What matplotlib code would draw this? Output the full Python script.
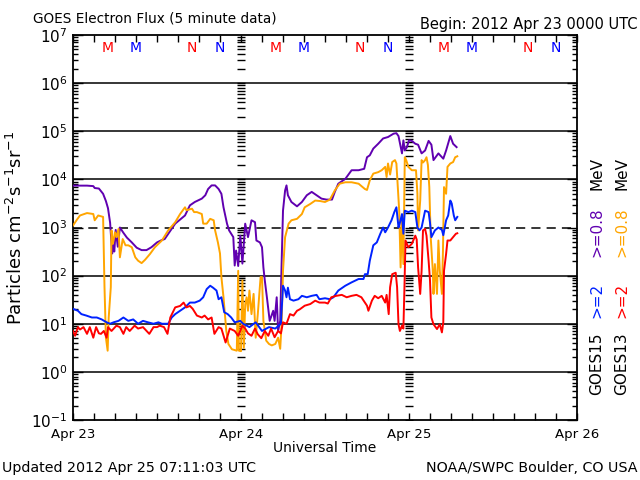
import matplotlib
matplotlib.use('Agg')
import matplotlib.pyplot as plt
import numpy as np
from matplotlib.ticker import FixedLocator, MultipleLocator, NullFormatter

# hours since 2012 Apr 23 00:00 UT, values are log10 of flux
g15_08_hours = [0, 1, 2, 2.9, 3.1, 3.7, 4.3, 4.7, 5.0, 5.3,
                5.6, 5.7, 5.9, 6.1, 6.4, 6.7, 7.2, 7.7, 8.4, 9.1,
                9.8, 10.5, 11.2, 12.0, 12.7, 13.1, 14.6, 16.0, 16.7, 17.4,
                18.4, 18.9, 19.3, 19.8, 20.3, 20.8, 21.2, 21.5, 22.0, 22.3,
                22.9, 23.1, 23.3, 23.6, 23.9, 24.2, 24.5, 24.6, 25.0, 25.5,
                26.0, 26.2, 26.7, 27.0, 27.2, 27.4, 27.7, 28.1, 28.6, 28.8,
                29.1, 29.3, 29.6, 29.8, 30.0, 30.3, 30.5, 30.7, 31.2, 32.0,
                32.7, 33.4, 34.1, 34.8, 35.5, 36.2, 37.0, 37.4, 37.9, 38.9,
                39.8, 40.8, 41.6, 42.0, 42.4, 42.9, 43.6, 44.3, 45.0, 45.8,
                46.2, 46.5, 47.0, 47.2, 47.4, 47.7, 48.0, 48.4, 48.9, 49.3,
                49.8, 50.3, 50.8, 51.2, 51.5, 52.2, 52.9, 53.3, 53.9, 54.3,
                54.8]
g15_08_log = [3.87, 3.87, 3.87, 3.86, 3.82, 3.81, 3.70, 3.55, 3.40, 3.10,
              2.46, 2.65, 2.50, 2.95, 2.60, 3.00, 2.89, 2.79, 2.69, 2.58,
              2.53, 2.53, 2.59, 2.69, 2.74, 2.76, 3.08, 3.25, 3.46, 3.53,
              3.60, 3.67, 3.80, 3.875, 3.875, 3.80, 3.70, 3.42, 3.08, 2.94,
              2.80, 2.21, 2.52, 2.20, 2.83, 2.25, 2.87, 3.08, 2.80, 3.15,
              3.11, 2.73, 2.69, 2.59, 2.17, 1.90, 1.55, 1.06, 1.27, 1.06,
              1.55, 0.85, 1.06, 2.24, 3.35, 3.77, 3.875, 3.67, 3.53, 3.44,
              3.53, 3.67, 3.74, 3.67, 3.60, 3.58, 3.58, 3.74, 3.91, 4.01,
              4.19, 4.19, 4.22, 4.46, 4.50, 4.64, 4.74, 4.85, 4.88, 4.95,
              4.96, 4.90, 4.54, 4.81, 4.60, 4.67, 4.81, 4.80, 4.74, 4.72,
              4.54, 4.60, 4.80, 4.72, 4.40, 4.54, 4.43, 4.60, 4.90, 4.74,
              4.67]

g13_08_hours = [0, 0.5, 1.0, 2.0, 2.9, 3.1, 3.6, 4.3, 4.5, 4.7,
                4.95, 5.1, 5.4, 5.5, 5.7, 6.0, 6.2, 6.5, 6.7, 7.1,
                7.5, 7.9, 8.4, 8.9, 9.3, 9.8, 10.3, 11.0, 11.7, 12.7,
                13.6, 14.6, 15.3, 16.0, 16.2, 17.0, 17.3, 17.7, 18.4, 18.6,
                19.1, 19.6, 20.1, 20.3, 20.7, 21.0, 21.2, 21.5, 21.7, 21.9,
                22.2, 22.7, 23.4, 23.6, 23.7, 24.0, 24.2, 24.4, 24.6, 24.8,
                25.0, 25.2, 25.5, 25.8, 26.1, 26.4, 26.8, 27.0, 27.2, 27.6,
                28.0, 28.4, 28.9, 29.3, 29.6, 29.8, 30.0, 30.3, 30.8, 31.2,
                32.0, 32.7, 33.1, 33.9, 34.6, 35.3, 36.0, 36.7, 37.4, 38.1,
                38.9, 39.8, 40.8, 41.7, 42.0, 42.4, 42.9, 43.6, 44.1, 44.6,
                44.8, 45.0, 45.3, 45.6, 46.0, 46.2, 46.4, 46.6, 46.8, 47.0,
                47.2, 47.4, 47.6, 47.9, 48.4, 49.0, 49.2, 49.3, 49.6, 49.8,
                50.0, 50.3, 50.5, 50.7, 50.9, 51.1, 51.4, 51.5, 51.7, 52.0,
                52.2, 52.4, 52.7, 52.85, 53.0, 53.3, 53.5, 53.9, 54.3, 54.6,
                54.9]
g13_08_log = [3.04, 3.15, 3.25, 3.30, 3.28, 3.15, 3.25, 3.22, 1.76, 0.71,
              0.44, 1.13, 1.76, 2.94, 2.66, 2.90, 2.80, 2.97, 2.38, 2.76,
              2.63, 2.63, 2.59, 2.38, 2.31, 2.26, 2.33, 2.45, 2.59, 2.73,
              2.94, 3.11, 3.28, 3.42, 3.36, 3.39, 3.32, 3.32, 3.28, 3.08,
              3.08, 3.18, 3.15, 2.94, 2.69, 2.46, 1.97, 1.55, 1.20, 0.85,
              0.58, 0.47, 0.44, 2.10, 0.44, 0.43, 1.90, 0.50, 1.40, 1.55,
              1.27, 1.69, 1.20, 1.62, 0.71, 1.20, 1.97, 1.97, 1.06, 0.65,
              0.58, 0.55, 0.58, 0.71, 0.48, 0.99, 2.10, 2.80, 3.08, 3.15,
              3.18, 3.28, 3.42, 3.49, 3.56, 3.55, 3.53, 3.58, 3.77, 3.91,
              3.94, 3.94, 3.91, 3.80, 3.78, 3.98, 4.12, 4.15, 4.19, 4.26,
              4.05, 4.33, 4.10, 4.36, 4.40, 4.33, 3.84, 3.35, 2.17, 3.15,
              2.24, 4.46, 4.40, 4.26, 4.19, 4.19, 3.70, 2.94, 3.56, 4.40,
              4.35, 4.40, 4.46, 4.30, 3.84, 2.80, 2.10, 1.62, 2.24, 1.62,
              2.73, 2.10, 1.62, 2.50, 3.84, 3.70, 4.26, 4.33, 4.36, 4.46,
              4.48]

g15_2_hours = [0, 0.7, 1.2, 1.9, 2.7, 3.4, 4.1, 4.8, 5.3, 5.8,
               6.5, 7.2, 7.9, 8.6, 9.3, 10.0, 10.7, 11.5, 12.2, 12.7,
               13.6, 14.1, 14.6, 15.3, 16.0, 16.7, 17.4, 18.1, 18.6, 19.1,
               19.6, 20.0, 20.5, 20.8, 21.2, 21.6, 22.1, 22.6, 23.1, 23.9,
               24.3, 25.2, 26.1, 27.0, 28.0, 28.9, 29.7, 30.0, 30.3, 30.5,
               30.7, 31.0, 31.5, 32.2, 32.7, 33.4, 34.1, 34.8, 35.2, 36.0,
               36.7, 37.2, 37.9, 38.9, 39.8, 40.8, 41.5, 41.7, 42.1, 42.4,
               42.9, 43.4, 43.9, 44.3, 44.6, 45.0, 45.5, 45.9, 46.2, 46.5,
               46.7, 47.0, 47.2, 47.4, 47.9, 48.4, 48.9, 49.2, 49.5, 49.8,
               50.3, 50.8, 51.0, 51.2, 51.7, 52.2, 52.7, 52.9, 53.3, 53.6,
               53.9, 54.1, 54.4, 54.6, 54.9]
g15_2_log = [1.31, 1.27, 1.20, 1.17, 1.13, 1.13, 1.09, 1.03, 1.00, 1.03,
             1.06, 1.13, 1.06, 1.09, 1.00, 1.06, 1.03, 1.00, 1.03, 1.00,
             1.00, 1.13, 1.20, 1.27, 1.34, 1.44, 1.44, 1.48, 1.55, 1.72,
             1.79, 1.75, 1.69, 1.51, 1.55, 1.24, 1.20, 1.13, 1.03, 1.06,
             1.00, 0.93, 1.03, 0.85, 0.93, 0.90, 1.00, 1.79, 1.69, 1.55,
             1.75, 1.51, 1.48, 1.51, 1.58, 1.55, 1.58, 1.60, 1.51, 1.53,
             1.51, 1.55, 1.69, 1.79, 1.86, 1.93, 1.93, 2.03, 2.03, 2.31,
             2.63, 2.69, 2.87, 3.00, 2.90, 3.00, 3.15, 3.32, 3.42, 3.00,
             3.10, 3.28, 2.87, 3.35, 3.32, 3.35, 3.32, 3.00, 2.94, 3.00,
             3.35, 3.32, 3.10, 2.80, 2.94, 3.00, 2.95, 2.84, 3.15, 3.25,
             3.56, 3.50, 3.25, 3.15, 3.22]

g13_2_hours = [0, 0.3, 0.7, 1.0, 1.5, 2.0, 2.4, 2.9, 3.3, 3.7,
               4.0, 4.4, 4.8, 5.0, 5.5, 6.2, 6.7, 7.2, 7.6, 8.1,
               8.8, 9.3, 10.0, 10.9, 11.5, 12.0, 12.4, 13.0, 13.5, 13.9,
               14.6, 15.3, 15.8, 16.2, 16.7, 17.1, 17.7, 18.4, 18.8, 19.3,
               19.8, 20.2, 20.8, 21.2, 21.8, 22.4, 23.1, 23.6, 24.2, 24.6,
               25.0, 25.5, 26.0, 26.4, 26.9, 27.4, 27.9, 28.3, 28.8, 29.3,
               29.7, 30.0, 30.5, 31.0, 31.5, 32.0, 32.4, 33.1, 33.9, 34.6,
               35.2, 36.0, 36.4, 36.9, 37.6, 38.4, 39.1, 39.8, 40.5, 41.2,
               42.0, 42.2, 42.7, 43.1, 43.6, 44.1, 44.6, 44.8, 45.1, 45.3,
               45.6, 46.1, 46.3, 46.5, 46.7, 47.0, 47.2, 47.35, 47.5, 47.9,
               48.4, 48.9, 49.1, 49.3, 49.6, 49.8, 50.0, 50.3, 50.5, 50.8,
               51.0, 51.2, 51.5, 52.0, 52.4, 52.7, 52.9, 53.0, 53.3, 53.5,
               53.9, 54.3, 54.7, 54.9]
g13_2_log = [0.85, 0.75, 0.93, 0.88, 0.93, 0.79, 0.93, 0.71, 0.93, 0.80,
             0.79, 0.85, 0.71, 0.93, 0.85, 0.96, 0.93, 0.79, 0.93, 0.85,
             0.96, 0.90, 0.93, 0.79, 0.93, 0.93, 0.96, 0.93, 0.79, 1.13,
             1.34, 1.37, 1.44, 1.34, 1.37, 1.31, 1.17, 1.13, 1.17, 1.09,
             1.13, 0.79, 0.93, 0.90, 0.61, 0.90, 0.85, 0.75, 0.96, 0.90,
             0.80, 0.75, 0.90, 0.78, 0.70, 0.85, 0.75, 0.90, 0.72, 0.85,
             0.80, 1.03, 1.00, 1.20, 1.17, 1.27, 1.30, 1.375, 1.41, 1.48,
             1.44, 1.44, 1.42, 1.55, 1.58, 1.60, 1.55, 1.58, 1.60, 1.55,
             1.375, 1.27, 1.48, 1.58, 1.53, 1.58, 1.44, 1.60, 1.20, 1.76,
             2.03, 2.06, 1.76, 0.99, 0.85, 0.96, 0.90, 1.76, 2.73, 2.59,
             2.66, 2.83, 2.75, 2.17, 1.62, 2.10, 2.94, 2.97, 2.83, 2.31,
             1.90, 1.13, 0.99, 0.89, 0.99, 0.82, 1.03, 2.10, 2.45, 2.73,
             2.73, 2.80, 2.87, 2.88]

# local midnight / noon markers for GOES-13 (red) and GOES-15 (blue)
marker_hours = [5, 9, 17, 21, 29, 33, 41, 45, 53, 57, 65, 69]
marker_text = ['M', 'M', 'N', 'N'] * 3
marker_colors = ['red', 'blue', 'red', 'blue'] * 3

day_labels = ['Apr 23', 'Apr 24', 'Apr 25', 'Apr 26']
decades = [-1, 0, 1, 2, 3, 4, 5, 6, 7]

PURPLE = '#6000b0'
ORANGE = '#ffa500'
BLUE = '#0022ff'
RED = '#ff0000'

fig = plt.figure(figsize=(6.4, 4.8), dpi=100)
ax = fig.add_axes([73 / 640, 60 / 480, 504 / 640, 385 / 480])

ax.set_yscale('log')
ax.set_ylim(1e-1, 1e7)
ax.set_xlim(0, 72)

# grid lines at decades, 10^3 dashed
for k in [0, 1, 2, 4, 5, 6]:
    ax.axhline(10.0 ** k, color='black', lw=1.1, zorder=1)
ax.axhline(1e3, color='black', lw=1.1, ls=(0, (6, 4)), zorder=1)

# tick ladders at day boundaries
ladder = np.outer(10.0 ** np.arange(-1, 7), np.arange(1, 10)).ravel()
for d in [24, 48]:
    ax.plot(np.full(ladder.size, d), ladder, ls='none', marker='_',
            ms=6, mew=1.0, color='black', zorder=1)

ax.plot(g15_08_hours, np.power(10.0, g15_08_log), color=PURPLE, lw=1.4, zorder=3)
ax.plot(g13_08_hours, np.power(10.0, g13_08_log), color=ORANGE, lw=1.4, zorder=4)
ax.plot(g15_2_hours, np.power(10.0, g15_2_log), color=BLUE, lw=1.4, zorder=5)
ax.plot(g13_2_hours, np.power(10.0, g13_2_log), color=RED, lw=1.4, zorder=6)

for h, t, c in zip(marker_hours, marker_text, marker_colors):
    ax.text(h, 10 ** 6.72, t, color=c, ha='center', va='center', fontsize=10)

ax.xaxis.set_major_locator(FixedLocator([0, 24, 48, 72]))
ax.set_xticklabels(day_labels)
ax.xaxis.set_minor_locator(MultipleLocator(3))

minor_y = [10.0 ** k * m for k in decades[:-1] for m in range(2, 10)]
ax.yaxis.set_major_locator(FixedLocator([10.0 ** k for k in decades]))
ax.set_yticklabels(['$10^{%d}$' % k for k in decades])
ax.yaxis.set_minor_locator(FixedLocator(minor_y))
ax.yaxis.set_minor_formatter(NullFormatter())

ax.tick_params(which='both', direction='in', top=True, right=True, width=1, colors='black')
ax.tick_params(axis='y', which='major', length=7, labelsize=11, pad=4)
ax.tick_params(axis='y', which='minor', length=3.5)
ax.tick_params(axis='x', which='major', length=5, labelsize=9.5, pad=6)
ax.tick_params(axis='x', which='minor', length=5)
for s in ax.spines.values():
    s.set_linewidth(1.3)

ax.set_xlabel('Universal Time', fontsize=10, labelpad=0)
ax.set_ylabel('Particles cm$^{-2}$s$^{-1}$sr$^{-1}$', fontsize=13, labelpad=4)

fig.text(33 / 640, 1 - 18 / 480, 'GOES Electron Flux (5 minute data)',
         fontsize=9.8, ha='left', va='center')
fig.text(638 / 640, 1 - 25 / 480, 'Begin: 2012 Apr 23 0000 UTC',
         fontsize=10.5, ha='right', va='center')
fig.text(2 / 640, 1 - 468 / 480, 'Updated 2012 Apr 25 07:11:03 UTC',
         fontsize=10.3, ha='left', va='center')
fig.text(638 / 640, 1 - 468 / 480, 'NOAA/SWPC Boulder, CO USA',
         fontsize=10.3, ha='right', va='center')

# right side legend, rotated
legend_rows = [
    (597, ['GOES15', '>=2', '>=0.8', 'MeV'], ['black', BLUE, PURPLE, 'black']),
    (622, ['GOES13', '>=2', '>=0.8', 'MeV'], ['black', RED, ORANGE, 'black']),
]
legend_y = [364, 300, 232, 173]
for x, texts, colors in legend_rows:
    for y, t, c in zip(legend_y, texts, colors):
        fig.text(x / 640, 1 - y / 480, t, color=c, rotation=90,
                 ha='center', va='center', fontsize=11)

fig.savefig('out.png', dpi=100)
